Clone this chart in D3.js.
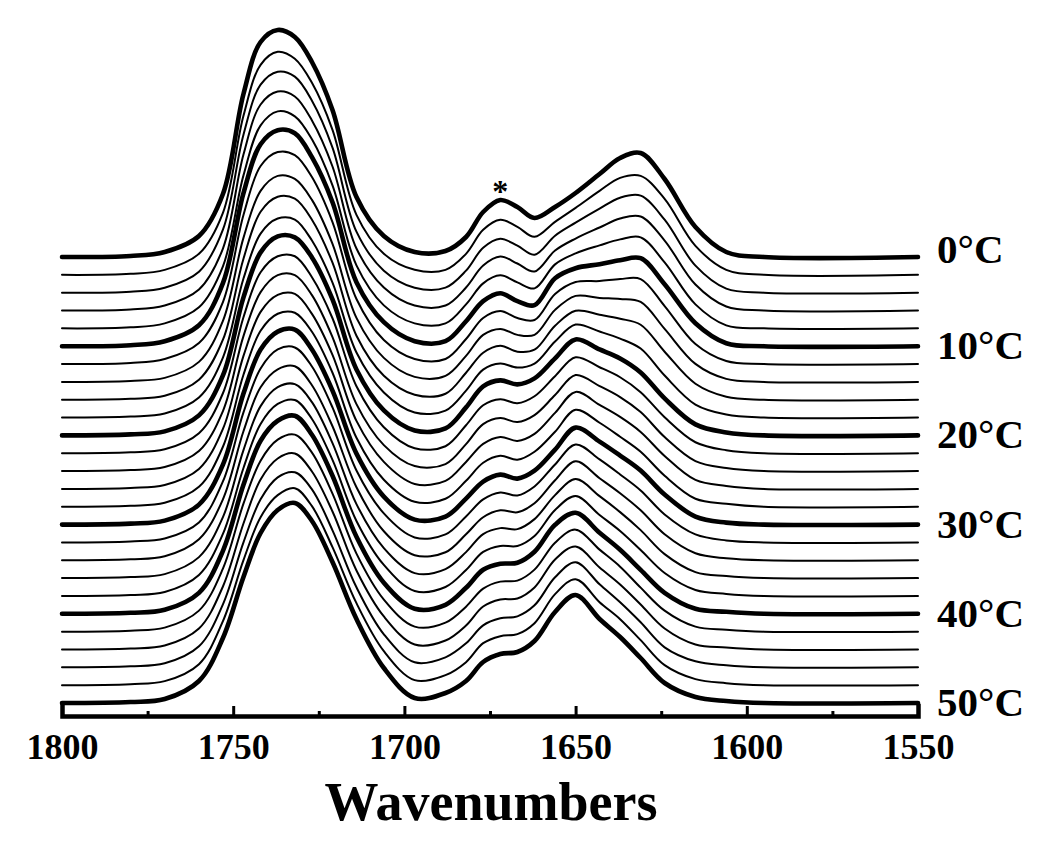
<!DOCTYPE html>
<html>
<head>
<meta charset="utf-8">
<script src="https://cdn.jsdelivr.net/npm/d3@7/dist/d3.min.js"></script>
<style>
  body { margin: 0; background: #fff; }
  text { font-family: "Liberation Serif", "Times New Roman", serif; font-weight: bold; }
</style>
</head>
<body>
<svg id="chart" width="1050" height="849"></svg>
<script>
// DATA: wavenumber grid (cm-1) and intensity of each spectrum on that grid
var wavenumbers = [1800, 1780, 1770, 1760, 1753, 1747, 1742, 1737, 1732, 1727, 1721, 1714, 1706, 1697,
                   1688, 1682, 1677, 1672, 1667, 1662, 1656, 1650, 1643, 1637, 1631, 1624, 1615, 1606, 1595, 1550];

var t00 = [0,1,5,21,63,163,215,227,220,195,147,60,21,5, 6,20,45,57,50,39,50,64,83,99,104,78,30,5, 0,0];
var t02 = [0,1,5,21,62,159,210,223,216,192,145,60,21,5, 5,21,45,55,48,38,53,67,84,97,99,76,29,5, 0,0];
var t04 = [0,1,5,21,63,158,208,221,216,192,145,61,22,5, 5,22,45,54,47,38,57,70,84,95,97,73,27,4, 0,0];
var t06 = [0,1,5,21,62,156,206,219,214,190,144,62,23,5, 5,23,45,54,47,39,60,72,83,92,94,70,26,4, 0,0];
var t08 = [0,1,5,21,62,153,203,217,212,189,143,63,23,5, 5,24,45,53,46,40,64,75,83,89,91,66,24,3, 0,0];
var t10 = [0,1,5,21,63,153,202,216,213,189,144,64,24,5, 5,25,45,53,45,41,68,78,82,86,88,62,23,3, 0,0];
var t12 = [0,1,5,21,62,149,198,212,209,187,142,65,24,5, 5,25,46,53,46,44,70,82,83,85,85,58,20,3, 0,0];
var t14 = [0,1,4,20,61,144,191,206,203,182,138,64,24,5, 6,26,47,53,47,47,72,86,84,83,80,53,18,3, 0,0];
var t16 = [0,1,4,20,60,141,188,203,201,180,137,64,24,5, 6,27,47,54,48,50,74,89,85,81,75,48,16,3, 0,0];
var t18 = [0,1,4,20,60,139,184,199,198,177,135,65,25,5, 7,27,48,54,50,54,76,93,86,79,69,42,13,3, 0,0];
var t20 = [0,1,4,20,60,138,183,199,198,178,136,66,25,5, 7,28,49,55,51,57,77,96,86,77,63,37,11,3, 0,0];
var t22 = [0,1,4,20,60,136,181,197,197,176,135,67,26,5, 7,28,48,54,50,57,77,96,86,76,61,36,11,3, 0,0];
var t24 = [0,1,4,20,60,135,179,196,196,176,134,67,26,5, 7,27,47,53,49,56,76,96,85,74,59,34,10,3, 0,0];
var t26 = [0,1,4,20,60,133,177,194,195,175,134,68,27,5, 8,27,45,52,48,55,76,97,84,72,57,33,9,3, 0,0];
var t28 = [0,1,4,20,60,132,176,193,194,175,134,69,27,5, 8,26,44,51,47,55,75,97,84,70,55,31,8,3, 0,0];
var t30 = [0,1,4,20,60,131,175,193,195,175,134,71,28,5, 8,26,43,50,46,54,75,97,83,69,54,30,8,2, 0,0];
var t32 = [0,1,4,20,61,130,174,193,195,176,135,72,29,5, 8,26,43,50,47,56,78,98,83,68,52,28,8,2, 0,0];
var t34 = [0,1,4,21,61,129,173,191,194,175,134,73,29,5, 8,26,43,50,48,57,80,99,82,67,50,26,7,2, 0,0];
var t36 = [0,1,4,21,61,128,172,191,194,176,135,74,30,5, 9,26,44,50,49,59,83,99,82,66,48,24,6,2, 0,0];
var t38 = [0,1,4,21,62,128,172,192,196,177,136,75,31,5, 9,26,44,50,50,60,86,100,81,65,46,23,6,2, 0,0];
var t40 = [0,1,4,21,63,129,173,193,198,179,138,77,31,5, 9,26,44,50,51,62,89,101,81,64,44,21,5,2, 0,0];
var t42 = [0,1,4,21,63,128,171,192,197,179,138,78,32,5, 9,25,43,50,51,62,89,102,82,65,44,21,5,2, 0,0];
var t44 = [0,1,4,21,63,126,170,191,196,178,138,79,33,5, 9,24,43,50,51,62,90,103,82,65,45,21,5,2, 0,0];
var t46 = [0,1,4,21,63,125,168,190,195,178,137,80,33,5, 10,24,42,49,51,62,90,105,83,65,45,20,6,2, 0,0];
var t48 = [0,1,4,21,64,125,168,190,197,179,138,82,34,5, 10,23,42,49,51,62,91,106,83,66,45,20,6,2, 0,0];
var t50 = [0,1,4,22,65,126,170,193,200,182,141,84,35,5, 10,22,41,49,51,62,91,108,84,66,45,20,6,2, 0,0];

var temperatures = [0,2,4,6,8,10,12,14,16,18,20,22,24,26,28,30,32,34,36,38,40,42,44,46,48,50];
var spectra = [t00,t02,t04,t06,t08,t10,t12,t14,t16,t18,t20,t22,t24,t26,t28,t30,t32,t34,t36,t38,t40,t42,t44,t46,t48,t50];

var labelTemps = [0, 10, 20, 30, 40, 50];
var majorTicks = [1800, 1750, 1700, 1650, 1600, 1550];
var minorTicks = [1775, 1725, 1675, 1625, 1575];

// Layout:
var svg = d3.select("#chart");
var width = 1050, height = 849;
svg.append("rect").attr("width", width).attr("height", height).attr("fill", "#fff");

// Scaling:
var xScale = d3.scaleLinear().domain([1800, 1550]).range([62, 918]);
var offset = d3.scaleLinear().domain([0, 50]).range([257, 703]);   // baseline of each temperature
var amp = d3.scaleLinear().domain([0, 100]).range([0, 100]);       // intensity -> pixels upward

// Draw the stacked spectra:
spectra.forEach(function (vals, i) {
    var T = temperatures[i];
    var bold = (T % 10 === 0);
    var line = d3.line()
        .x(function (d, j) { return xScale(wavenumbers[j]); })
        .y(function (d) { return offset(T) - amp(d); })
        .curve(d3.curveCatmullRom.alpha(0.5));
    svg.append("path")
        .datum(vals)
        .attr("fill", "none")
        .attr("stroke", "#000")
        .attr("stroke-width", bold ? 4.6 : 2)
        .attr("stroke-linejoin", "round")
        .attr("stroke-linecap", "round")
        .attr("d", line);
});

// Temperature labels on the right:
svg.selectAll(".tlabel")
    .data(labelTemps)
    .enter().append("text")
    .attr("class", "tlabel")
    .attr("x", 937)
    .attr("y", function (d) { return offset(d) + (d === 0 ? 6 : 13); })
    .attr("font-size", 41)
    .text(function (d) { return d + "°C"; });

// Asterisk over the 1671 band of the 0°C spectrum
svg.append("text")
    .attr("x", xScale(1672))
    .attr("y", offset(0) - amp(57) + 2)
    .attr("text-anchor", "middle")
    .attr("font-size", 32)
    .text("*");

// x axis (ticks point inward)
var axisY = 716;
var xAxis = d3.axisBottom(xScale)
    .tickValues(majorTicks)
    .tickSizeInner(-10)
    .tickSizeOuter(-10)
    .tickPadding(17)
    .tickFormat(d3.format("d"));

var gx = svg.append("g")
    .attr("transform", "translate(0," + axisY + ")")
    .call(xAxis);
gx.select(".domain").attr("stroke-width", 4.5).attr("stroke-linecap", "square");
gx.selectAll(".tick line").attr("stroke-width", 3);
gx.selectAll(".tick text")
    .attr("font-size", 36)
    .attr("font-family", "Liberation Serif, Times New Roman, serif")
    .attr("font-weight", "bold")
    .attr("fill", "#000");

var gMinor = svg.append("g")
    .attr("transform", "translate(0," + axisY + ")")
    .call(d3.axisBottom(xScale).tickValues(minorTicks).tickSizeInner(-5).tickSizeOuter(0).tickFormat(""));
gMinor.select(".domain").remove();
gMinor.selectAll(".tick line").attr("stroke-width", 3);

// x Axis Title:
svg.append("text")
    .attr("x", 491)
    .attr("y", 820)
    .attr("text-anchor", "middle")
    .attr("font-size", 54)
    .text("Wavenumbers");
</script>
</body>
</html>
